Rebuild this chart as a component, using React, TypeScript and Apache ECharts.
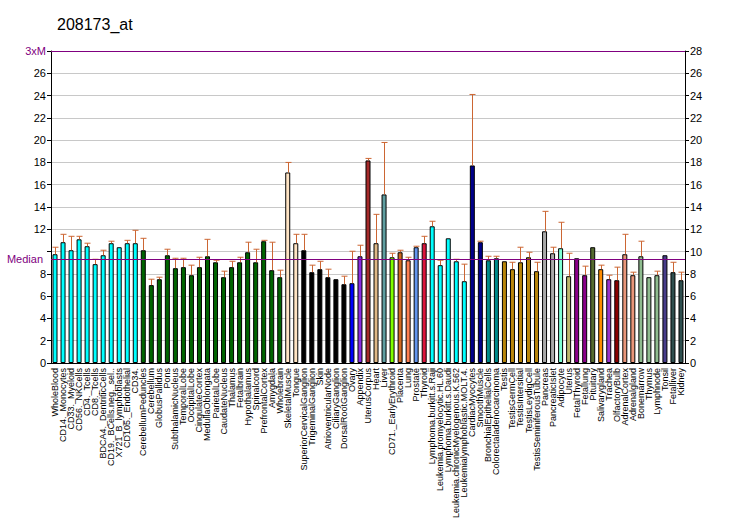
import React, { useEffect, useRef } from "react";
import * as echarts from "echarts";

const title = "208173_at";

const categories = [
  "WholeBlood", "CD14._Monocytes", "CD33._Myeloid", "CD56._NKCells", "CD4._Tcells", "CD8._Tcells",
  "BDCA4._DentriticCells", "CD19._BCells.neg._sel..", "X721_B_lymphoblasts", "CD105._Endothelial", "CD34.",
  "CerebellumPeduncles", "Cerebellum", "GlobusPallidus", "Pons", "SubthalamicNucleus", "TemporalLobe",
  "OccipitalLobe", "CingulateCortex", "MedullaOblongata", "ParietalLobe", "CaudateNucleus", "Thalamus",
  "Fetalbrain", "Hypothalamus", "Spinalcord", "PrefrontalCortex", "Amygdala", "Wholebrain",
  "SkeletalMuscle", "Tongue", "SuperiorCervicalGanglion", "TrigeminalGanglion", "Skin",
  "AtrioventricularNode", "CiliaryGanglion", "DorsalRootGanglion", "Ovary", "Appendix", "UterusCorpus",
  "Heart", "Liver", "CD71._EarlyErythroid", "Placenta", "Lung", "Prostate", "Thyroid",
  "Lymphoma.burkitt.s.Raji", "Leukemia.promyelocytic.HL.60", "Lymphoma.burkitt.s.Daudi",
  "Leukemia.chronicMyelogenous.K.562", "Leukemialymphoblastic.MOLT.4.", "CardiacMyocytes", "SmoothMuscle",
  "BronchialEpithelialCells", "Colorectaladenocarcinoma", "Testis", "TestisGermCell", "TestisIntersitial",
  "TestisLeydigCell", "TestisSeminiferousTubule", "Pancreas", "PancreaticIslet", "Adipocyte", "Uterus",
  "FetalThyroid", "Fetallung", "Pituitary", "Salivarygland", "Trachea", "OlfactoryBulb", "AdrenalCortex",
  "Adrenalgland", "Bonemarrow", "Thymus", "Lymphnode", "Tonsil", "Fetalliver", "Kidney",
];

const values = [
  9.76, 10.84, 10.12, 11.1, 10.48, 8.87, 9.67, 10.75, 10.39, 10.75, 10.75,
  10.12, 6.99, 7.52, 9.67, 8.51, 8.6, 7.88, 8.6, 9.58, 9.04, 7.7, 8.6, 9.04, 9.94, 9.04, 10.93, 8.33, 7.7,
  17.1, 10.75, 10.12, 8.15, 8.42, 7.7, 7.52, 7.07, 7.16, 9.58, 18.18,
  10.75, 15.13, 9.49, 9.94, 9.22, 10.39, 10.75, 12.27, 8.78, 11.19, 9.13, 7.34, 17.73, 10.84,
  9.22, 9.4, 9.13, 8.42, 9.04, 9.49, 8.24, 11.82, 9.85, 10.3, 7.79, 9.4, 7.88, 10.39, 8.42, 7.52,
  7.43, 9.76, 7.88, 9.58, 7.7, 7.88, 9.67, 8.15, 7.43,
];

const errorTops: (number | null)[] = [
  10.39, 11.55, 11.37, 11.37, 10.75, 9.31, 10.12, 10.93, null, 11.01, 11.91,
  11.19, 7.52, 7.7, 10.21, 9.4, 9.4, 8.78, 9.49, 11.1, 9.22, 8.24, 9.13, 9.49, 10.84, 10.21, 11.01, 10.84, 8.33,
  18.0, 11.55, 11.55, 8.78, 9.13, 8.42, null, 7.79, 10.03, 10.57, 18.36,
  13.34, 19.79, 9.85, 10.12, 9.49, 10.48, 11.37, 12.72, 9.22, null, 9.31, 8.87, 24.1, 10.93,
  9.58, 9.58, null, 9.04, 10.39, 9.94, 9.04, 13.61, 10.39, 12.63, 9.85, 9.4, 8.69, null, 8.78, 7.88,
  8.6, 11.55, 8.15, 10.93, null, 8.24, null, 9.04, 8.15,
];

const colors = [
  ...Array(11).fill("#00FFFF"),
  ...Array(18).fill("#006400"),
  "#FFE4C4", "#FFE4C4",
  ...Array(6).fill("#000000"),
  "#0000FF", "#8A2BE2", "#A52A2A",
  "#DEB887", "#5F9EA0", "#7FFF00", "#D2691E", "#FF7F50", "#6495ED", "#DC143C",
  ...Array(5).fill("#00FFFF"),
  "#00008B", "#00008B", "#008B8B", "#008B8B",
  ...Array(5).fill("#B8860B"),
  "#A9A9A9", "#A9A9A9", "#7FFFD4", "#BDB76B", "#8B008B", "#8B008B", "#556B2F", "#FF8C00", "#9932CC",
  "#8B0000", "#E9967A", "#E9967A", "#8FBC8F", "#8FBC8F", "#8FBC8F", "#483D8B", "#2F4F4F", "#2F4F4F",
];

const median = 9.33;
const yMax = 28;
const yInterval = 2;

export default function App() {
  const ref = useRef<HTMLDivElement>(null);
  useEffect(() => {
    document.body.style.margin = "0";
    const chart = echarts.init(ref.current!, null, { renderer: "svg" });
    const font = "Arial, 'Liberation Sans', sans-serif";
    const errData = errorTops.map((e, i) => [i, values[i], e == null ? values[i] : e]);
    chart.setOption({
      animation: false,
      backgroundColor: "#ffffff",
      title: {
        text: title,
        left: 52,
        top: 11,
        textStyle: { fontSize: 16, fontWeight: "normal", color: "#000", fontFamily: font },
      },
      grid: { left: 51, right: 47, top: 51, bottom: 167, containLabel: false, outerBoundsMode: "none" },
      xAxis: {
        type: "category",
        data: categories,
        boundaryGap: true,
        axisLine: { lineStyle: { color: "#000", width: 1 } },
        axisTick: { alignWithLabel: true, length: 4, lineStyle: { color: "#000" } },
        axisLabel: {
          rotate: 90,
          interval: 0,
          fontSize: 9,
          fontFamily: font,
          color: "#000",
          margin: 5,
        },
      },
      yAxis: [
        {
          type: "value",
          min: 0,
          max: yMax,
          interval: yInterval,
          position: "left",
          axisLine: { show: true, lineStyle: { color: "#000" } },
          axisTick: { show: true, length: 4, lineStyle: { color: "#000" } },
          splitLine: { show: true, lineStyle: { color: "#C8C8C8", width: 1 } },
          axisLabel: {
            fontSize: 11,
            fontFamily: font,
            color: "#000",
            margin: 5,
            formatter: (v: number) => (v === yMax ? "{m|3xM}" : v === 10 ? "" : String(v)),
            rich: { m: { color: "#800080", fontSize: 11, fontFamily: font } },
          },
        },
        {
          type: "value",
          min: 0,
          max: yMax,
          interval: yInterval,
          position: "right",
          axisLine: { show: true, lineStyle: { color: "#000" } },
          axisTick: { show: true, length: 4, lineStyle: { color: "#000" } },
          splitLine: { show: false },
          axisLabel: { fontSize: 11, fontFamily: font, color: "#000", margin: 5 },
        },
      ],
      series: [
        {
          type: "bar",
          data: values.map((v, i) => ({ value: v, itemStyle: { color: colors[i] } })),
          barWidth: 5,
          itemStyle: { borderColor: "#000", borderWidth: 1 },
          markLine: {
            silent: true,
            symbol: "none",
            animation: false,
            data: [
              {
                yAxis: median,
                lineStyle: { color: "#800080", width: 1.2, type: "solid" },
                label: {
                  show: true,
                  position: "start",
                  formatter: "Median",
                  color: "#800080",
                  fontSize: 11,
                  fontFamily: font,
                  distance: 8,
                },
              },
              {
                yAxis: yMax,
                lineStyle: { color: "#800080", width: 1.2, type: "solid" },
                label: { show: false },
              },
            ],
          },
        },
        {
          type: "custom",
          data: errData,
          encode: { x: 0, y: [1, 2] },
          z: 3,
          renderItem: (params: any, api: any) => {
            const idx = api.value(0);
            const base = api.coord([idx, api.value(1)]);
            const top = api.coord([idx, api.value(2)]);
            if (Math.abs(base[1] - top[1]) < 0.5) return { type: "group", children: [] };
            const x = Math.round(base[0]) + 0.5;
            const style = { stroke: "#CC6633", lineWidth: 1 };
            return {
              type: "group",
              children: [
                { type: "line", shape: { x1: x, y1: base[1], x2: x, y2: top[1] }, style },
                { type: "line", shape: { x1: x - 3, y1: top[1], x2: x + 3, y2: top[1] }, style },
              ],
            };
          },
        },
      ],
    });
    return () => chart.dispose();
  }, []);
  return <div ref={ref} style={{ width: 732, height: 530 }} />;
}
